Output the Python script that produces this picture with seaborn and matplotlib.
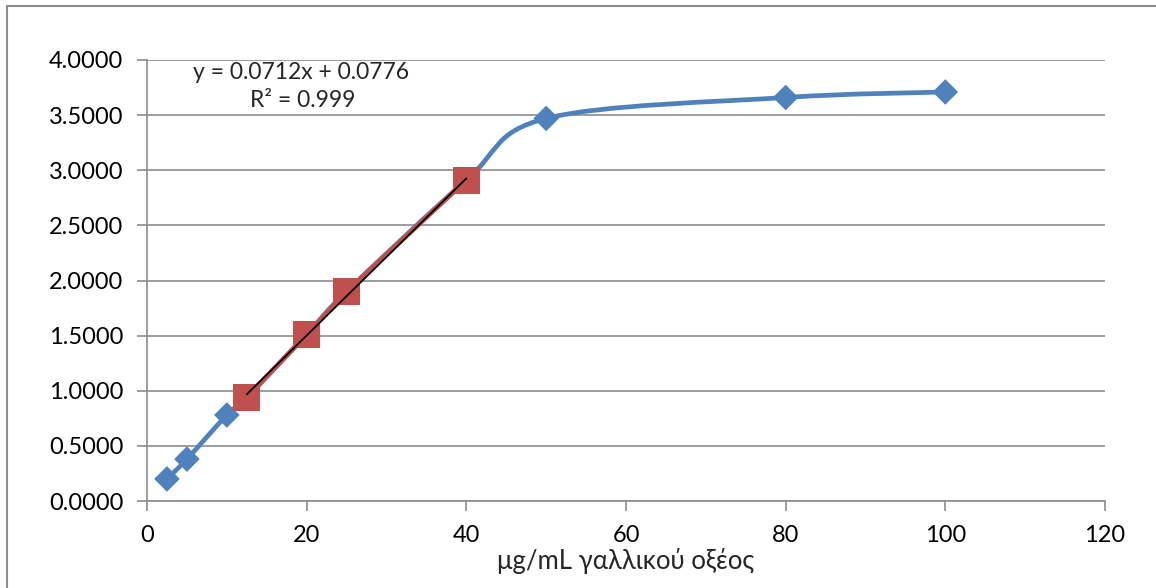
import matplotlib
matplotlib.use('Agg')
import matplotlib.pyplot as plt
from matplotlib.path import Path
from matplotlib.patches import PathPatch
from matplotlib.lines import Line2D
import seaborn as sns
import numpy as np
import pandas as pd

# -- data --
conc = [2.5, 5, 10, 12.5, 20, 25, 40, 50, 80, 100]
absorb = [0.20, 0.38, 0.78, 0.94, 1.51, 1.90, 2.91, 3.47, 3.66, 3.71]
lin_conc = [12.5, 20, 25, 40]
lin_absorb = [0.94, 1.51, 1.90, 2.91]
slope = 0.0712
intercept = 0.0776
eq_text = "y = 0.0712x + 0.0776"
r2_text = "R² = 0.999"
xlabel = "μg/mL γαλλικού οξέος"

blue = '#4F81BD'
red = '#C0504D'
grey = '#8C8C8C'

sns.set_theme(style="white")
plt.rcParams['font.family'] = ['Lato', 'DejaVu Sans']

fig = plt.figure(figsize=(11.56, 5.88), dpi=100)
ax = fig.add_axes([147/1156, 1 - 501/588, (1105 - 147)/1156, (501 - 60)/588])


def excel_smooth(xs, ys):
    # bezier path like excel's "smoothed line"
    pts = np.column_stack([xs, ys])
    n = len(pts)
    verts = [pts[0]]
    codes = [Path.MOVETO]
    for i in range(n - 1):
        p0 = pts[i - 1] if i > 0 else pts[i]
        p1 = pts[i]
        p2 = pts[i + 1]
        p3 = pts[i + 2] if i + 2 < n else pts[i + 1]
        verts += [p1 + (p2 - p0) / 6, p2 - (p3 - p1) / 6, p2]
        codes += [Path.CURVE4] * 3
    return Path(verts, codes)


ax.add_patch(PathPatch(excel_smooth(conc, absorb), facecolor='none',
                       edgecolor=blue, lw=3.4, capstyle='round', zorder=3))

df = pd.DataFrame({'conc': conc, 'abs': absorb})
df = df[~df['conc'].isin(lin_conc)]  # the squares sit on top of these
sns.scatterplot(data=df, x='conc', y='abs', marker='D', s=170, color=blue,
                edgecolor='none', ax=ax, zorder=4)

lin = pd.DataFrame({'conc': lin_conc, 'abs': lin_absorb})
sns.lineplot(data=lin, x='conc', y='abs', color=red, lw=3.5, ax=ax, zorder=5)
sns.scatterplot(data=lin, x='conc', y='abs', marker='s', s=380, color=red,
                edgecolor='none', ax=ax, zorder=6)

fit_x = np.array([lin_conc[0], lin_conc[-1]])
ax.plot(fit_x, slope * fit_x + intercept, color='black', lw=1.3, zorder=7)

ax.text(19.3, 3.885, eq_text, ha='center', va='center', fontsize=16.5)
ax.text(19.5, 3.63, r2_text, ha='center', va='center', fontsize=16.5)

ax.set_xlim(0, 120)
ax.set_ylim(0, 4)
ax.set_xticks(range(0, 121, 20))
ax.set_yticks(np.arange(0, 4.01, 0.5))
ax.set_yticklabels([f"{v:.4f}" for v in np.arange(0, 4.01, 0.5)])
ax.yaxis.grid(True, color=grey, lw=1.2)
ax.xaxis.grid(False)
ax.set_axisbelow(True)
for s in ['top', 'right']:
    ax.spines[s].set_visible(False)
for s in ['left', 'bottom']:
    ax.spines[s].set_color(grey)
    ax.spines[s].set_linewidth(1.2)
ax.tick_params(axis='both', which='major', direction='out', length=7,
               width=1.2, color=grey, labelsize=17, labelcolor='black',
               left=True, bottom=True)
ax.tick_params(axis='x', pad=10)
ax.tick_params(axis='y', pad=10)
ax.set_xlabel(xlabel, fontsize=18.5, labelpad=2)
ax.set_ylabel('')

# chart area border
fig.add_artist(Line2D([7/1156, 7/1156], [0, 1 - 6/588], color=grey, lw=1.5))
fig.add_artist(Line2D([7/1156, 1], [1 - 6/588, 1 - 6/588], color=grey, lw=1.5))

fig.savefig('out.png', dpi=100)
